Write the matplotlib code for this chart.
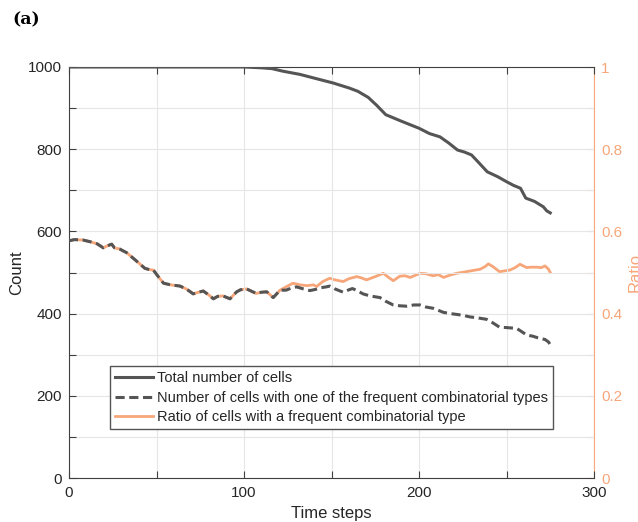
import numpy as np
import matplotlib
matplotlib.use('Agg')
import matplotlib.pyplot as plt

# total number of cells
t_total = [0, 100, 105, 110, 116, 122, 132, 141, 151, 160, 165, 171, 176, 181, 190,
           200, 206, 212, 217, 222, 226, 230, 234, 239, 245, 250, 254, 258, 261, 266,
           271, 273, 275]
total = [1000, 1000, 999, 998, 996, 990, 982, 972, 961, 949, 941, 926, 906, 884, 868,
         851, 838, 830, 815, 798, 793, 786, 768, 745, 733, 721, 712, 705, 681, 673,
         660, 650, 645]

# ratio of cells with a frequent combinatorial type
t_ratio = [0, 3, 8, 12, 16, 19.6, 22, 24.4, 26, 29, 33, 38, 43.4, 46, 48.2, 51, 54, 58,
           63.4, 67, 71, 74, 76.7, 80, 82.5, 85, 88, 92, 94, 95.8, 98, 101.5, 104, 107,
           110, 113, 116.7, 118, 120.6, 124, 128, 132, 136, 139.6, 141.5, 145, 149, 152,
           156.7, 160, 164.4, 167, 170, 175, 179.6, 182, 185.3, 189, 192, 195, 200.6,
           204, 208, 211, 214, 218, 221.5, 227, 231, 235, 238, 239.6, 242, 246, 249,
           252, 255, 257.7, 261.5, 264, 267, 270, 272, 274, 275]
ratio = [0.577, 0.58, 0.579, 0.575, 0.57, 0.560, 0.565, 0.569, 0.56, 0.557, 0.548,
         0.53, 0.510, 0.507, 0.506, 0.49, 0.474, 0.47, 0.467, 0.46, 0.448, 0.452, 0.455,
         0.445, 0.436, 0.442, 0.443, 0.436, 0.445, 0.453, 0.458, 0.460, 0.455, 0.449,
         0.452, 0.453, 0.439, 0.445, 0.457, 0.465, 0.474, 0.470, 0.468, 0.470, 0.466,
         0.478, 0.486, 0.482, 0.478, 0.485, 0.490, 0.487, 0.482, 0.49, 0.498, 0.49,
         0.480, 0.491, 0.492, 0.488, 0.498, 0.497, 0.492, 0.495, 0.488, 0.494, 0.498,
         0.502, 0.505, 0.508, 0.515, 0.521, 0.515, 0.502, 0.504, 0.506, 0.512, 0.520,
         0.512, 0.513, 0.513, 0.512, 0.516, 0.508, 0.500]

# number of cells with one of the frequent combinatorial types
t_freq = [0, 3, 8, 12, 16, 19.6, 22, 24.4, 26, 29, 33, 38, 43.4, 46, 48.2, 51, 54, 58,
          63.4, 67, 71, 74, 76.7, 80, 82.5, 85, 88, 92, 94, 95.8, 98, 101.5, 104, 107,
          110, 113, 116.7, 118, 120.6, 124, 127, 130, 134, 137.7, 141, 144, 147, 149,
          152, 156.7, 160, 162, 165, 168, 172, 177.7, 181, 185.3, 189, 193, 197, 200.6,
          204, 208, 211, 214, 218, 221.5, 225, 229, 233, 238.7, 242, 246, 250, 255.8,
          258, 261.5, 265, 268, 272, 274, 275]
freq = [577, 580, 579, 575, 570, 560, 565, 569, 560, 557, 548, 530, 510, 507, 506, 490,
        474, 470, 467, 460, 448, 452, 455, 445, 436, 442, 443, 436, 445, 453, 458, 460,
        455, 449, 452, 453, 439, 445, 457, 457, 462, 465, 460, 456, 459, 463, 465, 467,
        460, 452, 458, 461, 455, 448, 443, 439, 430, 421, 419, 418, 421, 421, 416, 413,
        408, 403, 400, 398, 396, 392, 390, 386, 378, 367, 366, 364, 358, 348, 345, 341,
        337, 331, 324]

gray = '#555555'
orange = '#F7A679'
axcol = '#262626'

plt.rcParams['font.family'] = ['Liberation Sans', 'DejaVu Sans']

fig = plt.figure(figsize=(6.38, 5.22), dpi=100)
ax = fig.add_axes([69/638, 44/522, 525/638, 411/522])
ax2 = ax.twinx()

l1, = ax.plot(t_total, total, color=gray, lw=2.2, zorder=3)
l2, = ax.plot(t_freq, freq, color=gray, lw=2.2, ls=(0, (3, 1.5)), zorder=3)
l3, = ax2.plot(t_ratio, ratio, color=orange, lw=2.0, zorder=2)
ax.set_zorder(ax2.get_zorder() + 1)
ax.patch.set_visible(False)

ax.set_xlim(0, 300)
ax.set_ylim(0, 1000)
ax2.set_ylim(0, 1)

ax.set_xticks(np.arange(0, 301, 50))
ax.set_xticklabels(['0', '', '100', '', '200', '', '300'])
ax.set_yticks(np.arange(0, 1001, 100))
ax.set_yticklabels(['0', '', '200', '', '400', '', '600', '', '800', '', '1000'])
ax2.set_yticks(np.arange(0, 1.01, 0.1))
ax2.set_yticklabels(['0', '', '0.2', '', '0.4', '', '0.6', '', '0.8', '', '1'])

ax.grid(True, color='#e6e6e6', lw=0.8)
ax.tick_params(direction='in', length=5, colors='#404040', labelsize=11,
               top=True, labelcolor=axcol)
ax.tick_params(axis='x', pad=6)
ax.tick_params(axis='y', pad=5)
ax2.tick_params(direction='in', length=5, colors=orange, labelsize=11, pad=5)

for s in ['top', 'bottom', 'left']:
    ax.spines[s].set_color('#404040')
ax.spines['right'].set_visible(False)
ax2.spines['right'].set_color(orange)
ax2.spines['left'].set_visible(False)
ax2.spines['top'].set_visible(False)
ax2.spines['bottom'].set_visible(False)

ax.set_xlabel('Time steps', fontsize=12, color=axcol, labelpad=4)
ax.set_ylabel('Count', fontsize=12, color=axcol, labelpad=3)
ax2.set_ylabel('Ratio', fontsize=12, color=orange, labelpad=4)

leg = ax.legend([l1, l2, l3],
                ['Total number of cells',
                 'Number of cells with one of the frequent combinatorial types',
                 'Ratio of cells with a frequent combinatorial type'],
                loc='upper left', bbox_to_anchor=(0.078, 0.272), fontsize=10.5,
                fancybox=False, framealpha=1, edgecolor='#555555',
                handlelength=2.6, handletextpad=0.3, borderpad=0.35,
                labelspacing=0.38, borderaxespad=0)
for txt in leg.get_texts():
    txt.set_color(axcol)

fig.text(12/638, 1 - 20/522, '(a)', fontsize=12.5, fontweight='bold',
         family='DejaVu Serif', va='center', ha='left')

fig.savefig('out.png', dpi=100)
